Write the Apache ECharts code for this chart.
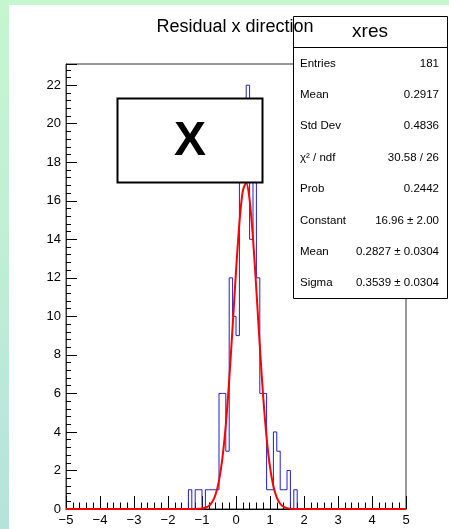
<!DOCTYPE html>
<html><head><meta charset="utf-8">
<script src="https://cdn.jsdelivr.net/npm/echarts@6/dist/echarts.min.js"></script>
<style>
html,body{margin:0;padding:0;width:449px;height:529px;overflow:hidden;
background:linear-gradient(180deg,#c6f6cf 0%,#bfeed6 50%,#b6e2dc 100%);}
#bg{position:absolute;left:9px;top:5px;width:440px;height:524px;background:#fff;}
#chart{position:absolute;left:0;top:0;width:449px;height:529px;}
</style></head><body><div id="bg"></div><div id="chart"></div>
<script>
const histTitle = 'Residual x direction';
const histName = 'xres';
const xMin = -5, xMax = 5, binWidth = 0.1;
// bin contents, 100 bins of width 0.1 from -5 to 5
const binCounts = [
  0,0,0,0,0,0,0,0,0,0,
  0,0,0,0,0,0,0,0,0,0,
  0,0,0,0,0,0,0,0,0,0,
  0,0,0,0,0,0,1,0,1,1,
  0,1,1,1,1,6,6,3,12,10,
  9,18,18,22,14,18,12,6,6,1,
  1,4,3,1,1,2,0,1,0,0,
  0,0,0,0,0,0,0,0,0,0,
  0,0,0,0,0,0,0,0,0,0,
  0,0,0,0,0,0,0,0,0,0
];
// fitted gaussian curve, sampled points
const fitX = [-5,-1.2,-1.1,-1.0,-0.9,-0.8,-0.7,-0.6,-0.5,-0.4,-0.3,-0.2,-0.1,0.0,0.1,0.2,0.3,0.4,0.5,0.6,0.7,0.8,0.9,1.0,1.1,1.2,1.3,1.4,1.5,1.6,1.7,1.8,5];
const fitY = [0,0.003,0.008,0.024,0.064,0.157,0.359,0.756,1.470,2.638,4.372,6.691,9.452,12.328,14.844,16.504,16.94,16.053,14.046,11.347,8.463,5.827,3.705,2.175,1.178,0.590,0.272,0.116,0.046,0.017,0.006,0.002,0];
const statLabels = ['Entries','Mean','Std Dev','\u03c7\u00b2 / ndf','Prob','Constant','Mean','Sigma'];
const statValues = ['181','0.2917','0.4836','30.58 / 26','0.2442','16.96 \u00b1 2.00','0.2827 \u00b1 0.0304','0.3539 \u00b1 0.0304'];
const boxLabel = 'X';

const FONT = '"Liberation Sans", Arial, Helvetica, sans-serif';

const histPts = [[xMin, 0]];
binCounts.forEach((c, i) => {
  const lo = xMin + i * binWidth, hi = xMin + (i + 1) * binWidth;
  histPts.push([lo, c], [hi, c]);
});
histPts.push([xMax, 0]);
const fitPts = fitX.map((x, i) => [x, fitY[i]]);

const fmt = v => (v < 0 ? '\u2212' + Math.abs(v) : String(v));

const graphics = [];
// stats box
const sbx = 293, sby = 16, sbw = 154, sbh = 282;
graphics.push({type:'rect', z:100, shape:{x:sbx+0.5, y:sby+0.5, width:sbw, height:sbh},
  style:{fill:'#fff', stroke:'#000', lineWidth:1}});
graphics.push({type:'line', z:101, shape:{x1:sbx, y1:47.5, x2:sbx+sbw, y2:47.5},
  style:{stroke:'#000', lineWidth:1}});
graphics.push({type:'text', z:102, style:{text:histName, x:370, y:32, fill:'#000',
  font:'19px ' + FONT, textAlign:'center', align:'center', textVerticalAlign:'middle', verticalAlign:'middle'}});
statLabels.forEach((lab, i) => {
  const y = 63.5 + i * 31.4;
  graphics.push({type:'text', z:102, style:{text:lab, x:300, y:y, fill:'#000',
    font:'11.5px ' + FONT, textAlign:'left', align:'left', textVerticalAlign:'middle', verticalAlign:'middle'}});
  graphics.push({type:'text', z:102, style:{text:statValues[i], x:439, y:y, fill:'#000',
    font:'11.5px ' + FONT, textAlign:'right', align:'right', textVerticalAlign:'middle', verticalAlign:'middle'}});
});
// title
graphics.push({type:'text', z:110, style:{text:histTitle, x:235, y:27, fill:'#000',
  font:'18px ' + FONT, textAlign:'center', align:'center', textVerticalAlign:'middle', verticalAlign:'middle'}});
// X box
graphics.push({type:'rect', z:100, shape:{x:117.5, y:98.5, width:145, height:84},
  style:{fill:'#fff', stroke:'#000', lineWidth:2}});
graphics.push({type:'text', z:102, style:{text:boxLabel, x:190, y:142, fill:'#000',
  font:'bold 48px ' + FONT, textAlign:'center', align:'center', textVerticalAlign:'middle', verticalAlign:'middle'}});

const chart = echarts.init(document.getElementById('chart'), null, {renderer:'canvas'});
chart.setOption({
  animation:false,
  backgroundColor:'transparent',
  grid:{left:66, right:43, top:64, bottom:20, show:true, borderColor:'#333', borderWidth:1, backgroundColor:'transparent'},
  xAxis:{type:'value', min:xMin, max:xMax, interval:1,
    axisLine:{show:true, onZero:false, lineStyle:{color:'#000', width:1}},
    axisTick:{show:true, inside:true, length:13, lineStyle:{color:'#000'}},
    minorTick:{show:true, splitNumber:5, length:6.5, lineStyle:{color:'#000'}},
    axisLabel:{formatter:fmt, color:'#000', fontSize:13, margin:5, fontFamily:FONT},
    splitLine:{show:false}, minorSplitLine:{show:false}},
  yAxis:{type:'value', min:0, max:23.1, interval:2,
    axisLine:{show:true, onZero:false, lineStyle:{color:'#333', width:1}},
    axisTick:{show:true, inside:true, length:11, lineStyle:{color:'#000'}},
    minorTick:{show:true, splitNumber:5, length:5, lineStyle:{color:'#000'}},
    axisLabel:{color:'#000', fontSize:13, margin:5, fontFamily:FONT, showMaxLabel:false},
    splitLine:{show:false}, minorSplitLine:{show:false}},
  series:[
    {type:'line', data:histPts, showSymbol:false, symbol:'none', z:2,
      lineStyle:{color:'#2020c8', width:1}},
    {type:'line', data:fitPts, showSymbol:false, symbol:'none', smooth:0.3, z:3,
      lineStyle:{color:'#ff0000', width:2}}
  ],
  graphic:{elements:graphics}
});
</script></body></html>
